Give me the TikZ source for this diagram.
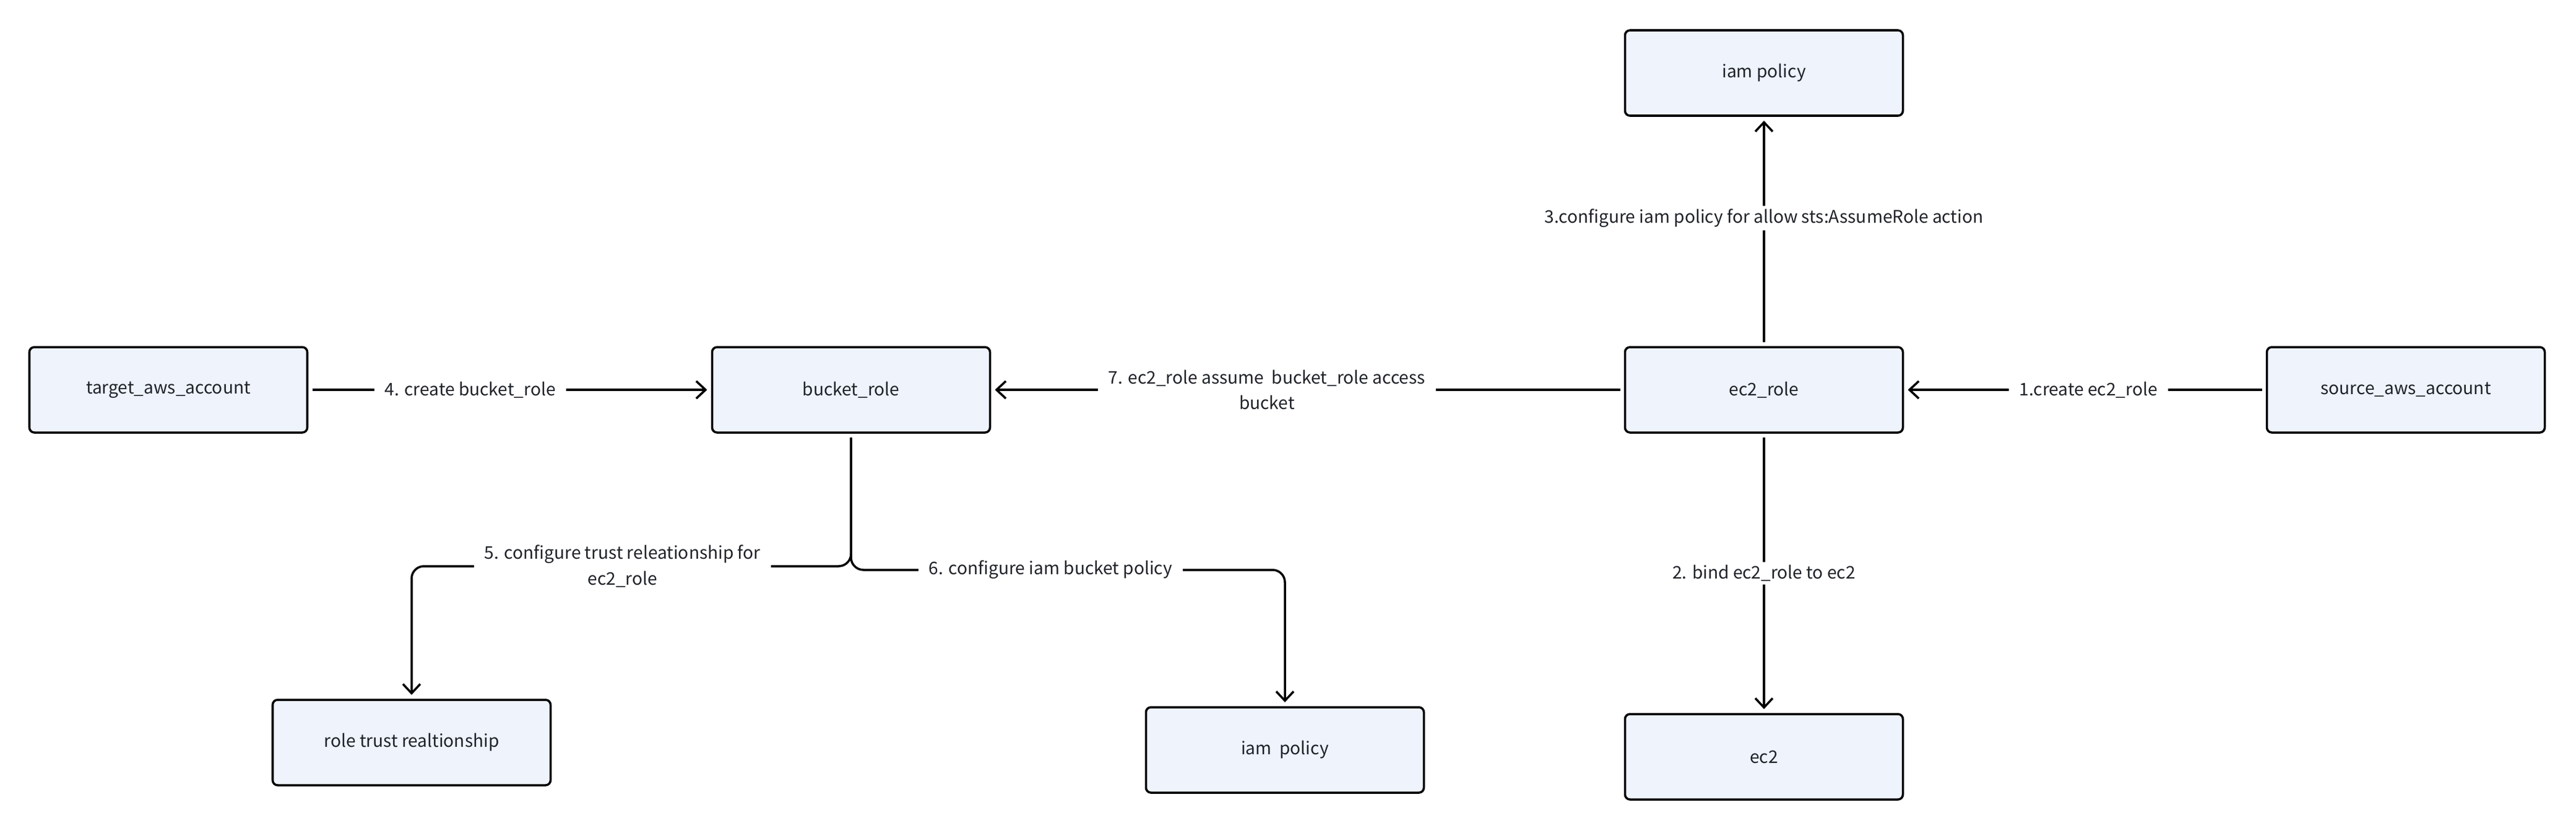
\documentclass[tikz,border=0pt]{standalone}
\usepackage{fontspec}
\setmainfont{Noto Sans CJK SC}
\usetikzlibrary{arrows.meta}

\definecolor{boxfill}{HTML}{EEF3FC}
\definecolor{txt}{HTML}{1F2329}

\tikzset{
	box/.style={draw, line width=1pt, rounded corners=0.08cm, fill=boxfill, text=txt,
		minimum width=4.49cm, minimum height=1.38cm, outer sep=0.08cm},
	conn/.style={line width=1pt, rounded corners=0.2cm,
		-{Straight Barb[length=1.5mm,width=2.8mm]}},
	lbl/.style={fill=white, text=txt, inner xsep=0.17cm, inner ysep=0.05cm, align=center}
}

\begin{document}
\begin{tikzpicture}[font=\fontsize{8.0}{11.9}\selectfont]
	
	\useasboundingbox (0,0) rectangle (41.62,-13.42);
	
	% top row and middle row
	\node[box] (iampol) at (28.50,-1.18) {iam policy};
	\node[box] (target) at (2.72,-6.30) {target\_aws\_account};
	\node[box] (bucket) at (13.75,-6.30) {bucket\_role};
	\node[box] (ec2role) at (28.50,-6.30) {ec2\_role};
	\node[box] (source) at (38.87,-6.30) {source\_aws\_account};
	
	% bottom row
	\node[box] (trust) at (6.65,-12.00) {role trust realtionship};
	\node[box] (bucketpol) at (20.76,-12.12) {iam\ \ policy};
	\node[box] (ec2) at (28.50,-12.23) {ec2};
	
	\coordinate (j5) at (6.65,-9.15);
	\coordinate (j6) at (20.76,-9.21);
	
	\draw[conn] (source) -- (ec2role) node[lbl,pos=0.49] (l1) {1.create ec2\_role};
	\draw[conn] (ec2role) -- (ec2) node[lbl,pos=0.5] (l2) {2. bind ec2\_role to ec2};
	\draw[conn] (ec2role) -- (iampol) node[lbl,pos=0.56] (l3) {3.configure iam policy for allow sts:AssumeRole action};
	\draw[conn] (target) -- (bucket) node[lbl,pos=0.4] (l4) {4. create bucket\_role};
	\draw[conn] (bucket.south) |- (j5) node[lbl,pos=0.76] (l5) {5. configure trust releationship for\\ec2\_role} -- (trust.north);
	\draw[conn] (bucket.south) |- (j6) node[lbl,pos=0.73] (l6) {6. configure iam bucket policy} -- (bucketpol.north);
	\draw[conn] (ec2role) -- (bucket) node[lbl,pos=0.565] (l7) {7. ec2\_role assume\ \ bucket\_role access\\bucket};
	
\end{tikzpicture}
\end{document}
